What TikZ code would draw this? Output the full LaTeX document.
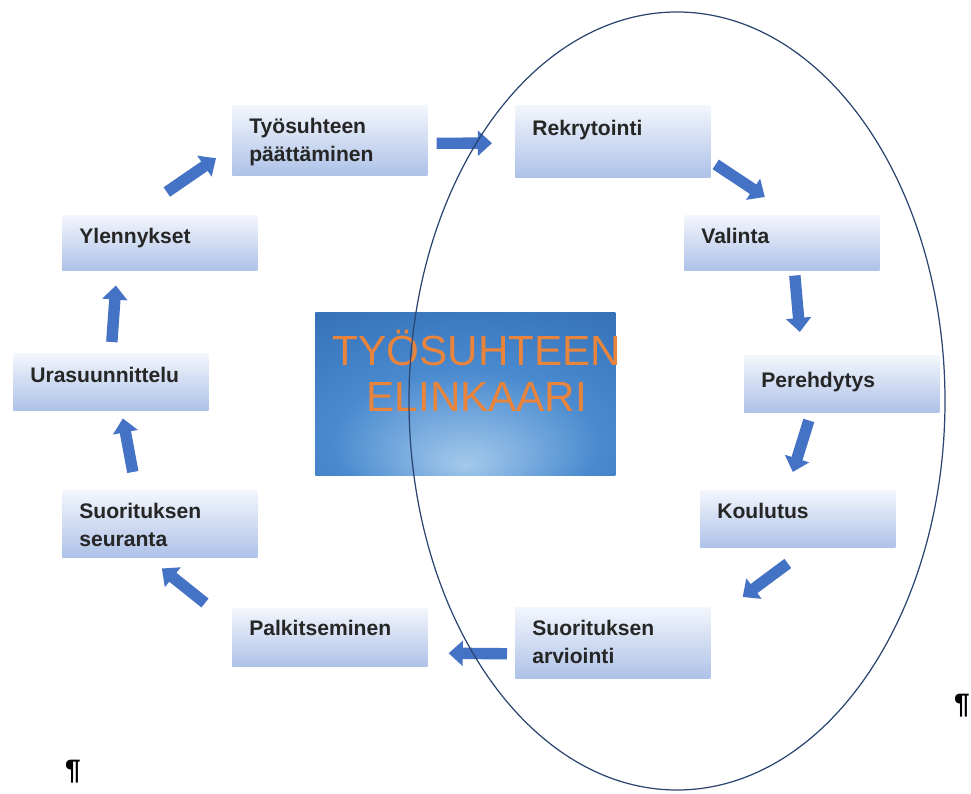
\documentclass[tikz,border=0pt]{standalone}
\usepackage{fontspec}
\setmainfont{Liberation Sans}
\usepackage{tikz}
\usetikzlibrary{arrows.meta}

\definecolor{boxtop}{HTML}{F3F6FC}
\definecolor{boxbot}{HTML}{AEC2E8}
\definecolor{flowblue}{HTML}{4472C4}
\definecolor{coredark}{HTML}{2A65AD}
\definecolor{coremid}{HTML}{4A8ACF}
\definecolor{corelight}{HTML}{A4CAEC}
\definecolor{titleorange}{HTML}{E8843C}
\definecolor{ringblue}{HTML}{2B4470}

\pgfdeclareradialshading{coreglow}{\pgfpoint{0bp}{-22bp}}{%
  color(0bp)=(corelight); color(22bp)=(coremid); color(52bp)=(coredark); color(70bp)=(coredark)}

\begin{document}
\begin{tikzpicture}[x=0.02cm,y=-0.02cm]
\useasboundingbox (0,0) rectangle (971,794);

% centre box
\node[anchor=north west, minimum width=6cm, minimum height=3.26cm, inner sep=0pt,
      shading=coreglow] (core) at (315,312) {};
\node[align=center, text=titleorange, font=\fontsize{24}{26}\selectfont] (title) at (477,371)
      {TYÖSUHTEEN\\ELINKAARI};

\begin{scope}[every node/.style={anchor=north west, top color=boxtop, bottom color=boxbot,
              text width=3.22cm, inner xsep=0.34cm, inner ysep=0pt, align=left,
              font=\bfseries\fontsize{12}{16}\selectfont, text=black!85, text height=15.9pt}]
    \node[text depth=23.8pt] (pa) at (232,105) {Työsuhteen\\päättäminen};
    \node[text height=17pt, text depth=23.8pt] (rek) at (515,105) {Rekrytointi};
    \node[text depth=15.3pt] (val) at (684,215) {Valinta};
    \node[text height=18.1pt, text depth=14.2pt] (pe) at (744,355) {Perehdytys};
    \node[text depth=16.4pt] (kou) at (700,490) {Koulutus};
    \node[text depth=24.4pt] (sa) at (515,607) {Suorituksen\\arviointi};
    \node[text height=15.3pt, text depth=17.6pt] (pal) at (232,608) {Palkitseminen};
    \node[text depth=22.1pt] (ss) at (62,490) {Suorituksen\\seuranta};
    \node[text height=16.4pt, text depth=15.9pt] (ur) at (13,353) {Urasuunnittelu};
    \node[text depth=15.3pt] (yl) at (62,215) {Ylennykset};
\end{scope}

\begin{scope}[>={Triangle[width=14pt,length=8pt]},
              every edge/.style={draw=flowblue, line width=6.5pt}]
    \path [->] ([shift={(9,3)}]pa.east) edge ([shift={(-23,2)}]rek.west);
    \path [->] ([shift={(5,-13)}]rek.south east) edge ([shift={(-17,-18)}]val.north);
    \path [->] ([shift={(13,5)}]val.south) edge ([shift={(-42,-23)}]pe.north);
    \path [->] ([shift={(-33,8)}]pe.south) edge ([shift={(-5,-18)}]kou.north);
    \path [->] ([shift={(-10,16)}]kou.south) edge ([shift={(32,-10)}]sa.north east);
    \path [->] ([shift={(-8,11)}]sa.west) edge ([shift={(21,16)}]pal.east);
    \path [->] ([shift={(-27,-5)}]pal.north west) edge ([shift={(2,11)}]ss.south);
    \path [->] ([shift={(-27,-18)}]ss.north) edge ([shift={(12,8)}]ur.south);
    \path [->] ([shift={(1,-11)}]ur.north) edge ([shift={(-44,15)}]yl.south);
    \path [->] ([shift={(7,-23)}]yl.north) edge ([shift={(-16,18)}]pa.west);
\end{scope}

% the ring
\draw[ringblue, line width=0.7pt] (677,401) ellipse [x radius=268, y radius=389];

\node[font=\bfseries\fontsize{16}{16}\selectfont] (marka) at (73,772) {¶};
\node[font=\bfseries\fontsize{16}{16}\selectfont] (markb) at (962,706) {¶};
\end{tikzpicture}
\end{document}
